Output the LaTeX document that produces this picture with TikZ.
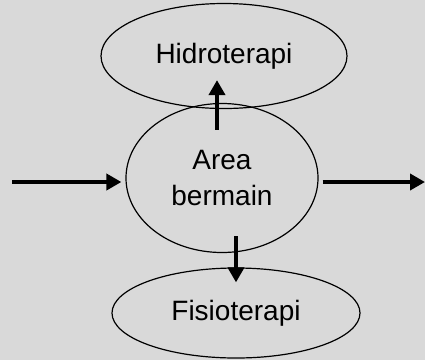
\documentclass[tikz,border=0pt]{standalone}
\usepackage{fontspec}
\setmainfont{Liberation Sans}
\usetikzlibrary{shapes.geometric, arrows.meta}
\definecolor{sfondo}{HTML}{D9D9D9}
\begin{document}
\begin{tikzpicture}[x=1pt, y=-1pt,
    bolla/.style={draw, ellipse, line width=1.2pt, inner sep=0pt, align=center,
                  font=\fontsize{28}{36}\selectfont},
    freccia/.style={line width=4pt, -{Triangle[length=15pt, width=16pt]}}]
% Sfondo
\fill[sfondo] (0,0) rectangle (425,360);
\useasboundingbox (0,0) rectangle (425,360);

% Nodi
\node[bolla, minimum width=246pt, minimum height=105pt] (hidro) at (224,56) {Hidroterapi};
\node[bolla, minimum width=192pt, minimum height=149pt] (area) at (222,178) {Area\\bermain};
\node[bolla, minimum width=248pt, minimum height=90pt] (fisio) at (236,313) {Fisioterapi};

% Ingresso e uscita
\coordinate (masuk) at (12,182);
\coordinate (keluar) at (425,182);

% Frecce
\draw[freccia] (masuk) -- ([xshift=-4pt, yshift=-4pt]area.west);
\draw[freccia] ([xshift=4pt, yshift=-4pt]area.east) -- (keluar);
\draw[freccia] ([xshift=-5pt, yshift=-27pt]area.north) -- ([xshift=-7pt, yshift=29pt]hidro.south);
\draw[freccia] ([xshift=14pt, yshift=17pt]area.south) -- ([yshift=-15pt]fisio.north);

\end{tikzpicture}
\end{document}
